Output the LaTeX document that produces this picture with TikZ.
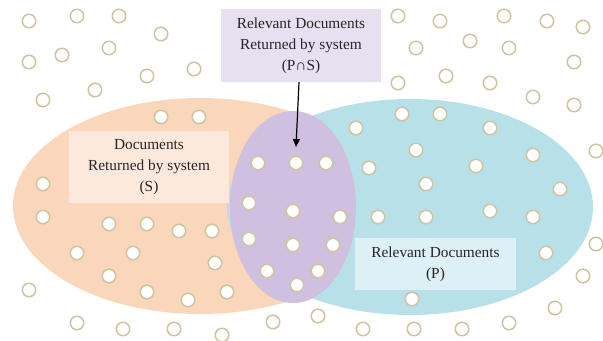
\documentclass[tikz,border=0pt]{standalone}
\usepackage{fontspec}
\setmainfont{Liberation Serif}
\usetikzlibrary{arrows.meta}

\definecolor{setS}{RGB}{250,214,186}
\definecolor{setP}{RGB}{184,224,232}
\definecolor{setPS}{RGB}{206,192,222}
\definecolor{boxS}{RGB}{253,233,219}
\definecolor{boxP}{RGB}{220,240,245}
\definecolor{boxPS}{RGB}{230,224,240}
\definecolor{docline}{RGB}{206,196,160}
\definecolor{labeltext}{RGB}{38,38,38}

\begin{document}
\begin{tikzpicture}[doc/.style={circle, draw=docline, fill=white,
						line width=1.5bp, minimum size=13.5bp, inner sep=0pt},
						label box/.style={align=center, inner sep=0pt,
						text=labeltext, font=\fontsize{15.4}{21}\selectfont}]

		\useasboundingbox (0bp,0bp) rectangle (603bp,341bp);

		\fill[setS] (200bp,135bp) ellipse [x radius=187bp, y radius=108bp];
		\fill[setP] (410bp,134bp) ellipse [x radius=183bp, y radius=108bp];
		\fill[setPS] (293bp,134bp) ellipse [x radius=63bp, y radius=96bp];

		\node[doc] (o1) at (29bp,320bp) {};
		\node[doc] (o2) at (77bp,325bp) {};
		\node[doc] (o3) at (119bp,325bp) {};
		\node[doc] (o4) at (161bp,307bp) {};
		\node[doc] (o5) at (29bp,279bp) {};
		\node[doc] (o6) at (62bp,286bp) {};
		\node[doc] (o7) at (109bp,293bp) {};
		\node[doc] (o8) at (194bp,272bp) {};
		\node[doc] (o9) at (147bp,265bp) {};
		\node[doc] (o10) at (95bp,251bp) {};
		\node[doc] (o11) at (43bp,241bp) {};
		\node[doc] (o12) at (398bp,325bp) {};
		\node[doc] (o13) at (440bp,320bp) {};
		\node[doc] (o14) at (504bp,325bp) {};
		\node[doc] (o15) at (547bp,320bp) {};
		\node[doc] (o16) at (583bp,314bp) {};
		\node[doc] (o17) at (416bp,293bp) {};
		\node[doc] (o18) at (470bp,300bp) {};
		\node[doc] (o19) at (509bp,293bp) {};
		\node[doc] (o20) at (574bp,279bp) {};
		\node[doc] (o21) at (398bp,258bp) {};
		\node[doc] (o22) at (446bp,265bp) {};
		\node[doc] (o23) at (490bp,258bp) {};
		\node[doc] (o24) at (533bp,244bp) {};
		\node[doc] (o25) at (574bp,236bp) {};
		\node[doc] (o26) at (596bp,190bp) {};
		\node[doc] (o27) at (596bp,97bp) {};
		\node[doc] (o28) at (583bp,65bp) {};
		\node[doc] (o29) at (555bp,33bp) {};
		\node[doc] (o30) at (29bp,51bp) {};
		\node[doc] (o31) at (77bp,18bp) {};
		\node[doc] (o32) at (123bp,12bp) {};
		\node[doc] (o33) at (174bp,12bp) {};
		\node[doc] (o34) at (222bp,6bp) {};
		\node[doc] (o35) at (273bp,19bp) {};
		\node[doc] (o36) at (318bp,25bp) {};
		\node[doc] (o37) at (363bp,12bp) {};
		\node[doc] (o38) at (414bp,12bp) {};
		\node[doc] (o39) at (462bp,12bp) {};
		\node[doc] (o40) at (509bp,18bp) {};

		\node[doc] (s1) at (161bp,224bp) {};
		\node[doc] (s2) at (199bp,224bp) {};
		\node[doc] (s3) at (43bp,157bp) {};
		\node[doc] (s4) at (43bp,124bp) {};
		\node[doc] (s5) at (109bp,117bp) {};
		\node[doc] (s6) at (147bp,117bp) {};
		\node[doc] (s7) at (179bp,110bp) {};
		\node[doc] (s8) at (212bp,110bp) {};
		\node[doc] (s9) at (77bp,88bp) {};
		\node[doc] (s10) at (133bp,88bp) {};
		\node[doc] (s11) at (215bp,78bp) {};
		\node[doc] (s12) at (109bp,65bp) {};
		\node[doc] (s13) at (147bp,49bp) {};
		\node[doc] (s14) at (188bp,41bp) {};
		\node[doc] (s15) at (227bp,49bp) {};

		\node[doc] (ps1) at (258bp,178bp) {};
		\node[doc] (ps2) at (296bp,178bp) {};
		\node[doc] (ps3) at (326bp,178bp) {};
		\node[doc] (ps4) at (249bp,138bp) {};
		\node[doc] (ps5) at (293bp,130bp) {};
		\node[doc] (ps6) at (340bp,124bp) {};
		\node[doc] (ps7) at (249bp,102bp) {};
		\node[doc] (ps8) at (293bp,96bp) {};
		\node[doc] (ps9) at (333bp,96bp) {};
		\node[doc] (ps10) at (267bp,70bp) {};
		\node[doc] (ps11) at (318bp,70bp) {};
		\node[doc] (ps12) at (297bp,56bp) {};

		\node[doc] (p1) at (356bp,213bp) {};
		\node[doc] (p2) at (402bp,227bp) {};
		\node[doc] (p3) at (440bp,227bp) {};
		\node[doc] (p4) at (490bp,213bp) {};
		\node[doc] (p5) at (416bp,191bp) {};
		\node[doc] (p6) at (533bp,186bp) {};
		\node[doc] (p7) at (369bp,173bp) {};
		\node[doc] (p8) at (476bp,175bp) {};
		\node[doc] (p9) at (426bp,157bp) {};
		\node[doc] (p10) at (560bp,152bp) {};
		\node[doc] (p11) at (378bp,124bp) {};
		\node[doc] (p12) at (426bp,124bp) {};
		\node[doc] (p13) at (490bp,130bp) {};
		\node[doc] (p14) at (533bp,124bp) {};
		\node[doc] (p15) at (546bp,88bp) {};
		\node[doc] (p16) at (412bp,42bp) {};

		\node[label box, fill=boxS, minimum width=160bp, minimum height=72bp]
			(sbox) at (149bp,174bp) {Documents\\Returned by system\\(S)};
		\node[label box, fill=boxP, minimum width=161bp, minimum height=52bp]
			(pbox) at (435.5bp,77bp) {Relevant Documents\\(P)};
		\node[label box, fill=boxPS, minimum width=160bp, minimum height=73bp]
			(psbox) at (301bp,295.5bp) {Relevant Documents\\Returned by system\\(P∩S)};

		\coordinate (pstip) at (296bp,194bp);
		\draw[line width=1.2bp, -{Triangle[length=8bp,width=7bp]}] (psbox.south) ++(-2bp,0) -- (pstip);

	\end{tikzpicture}
\end{document}
